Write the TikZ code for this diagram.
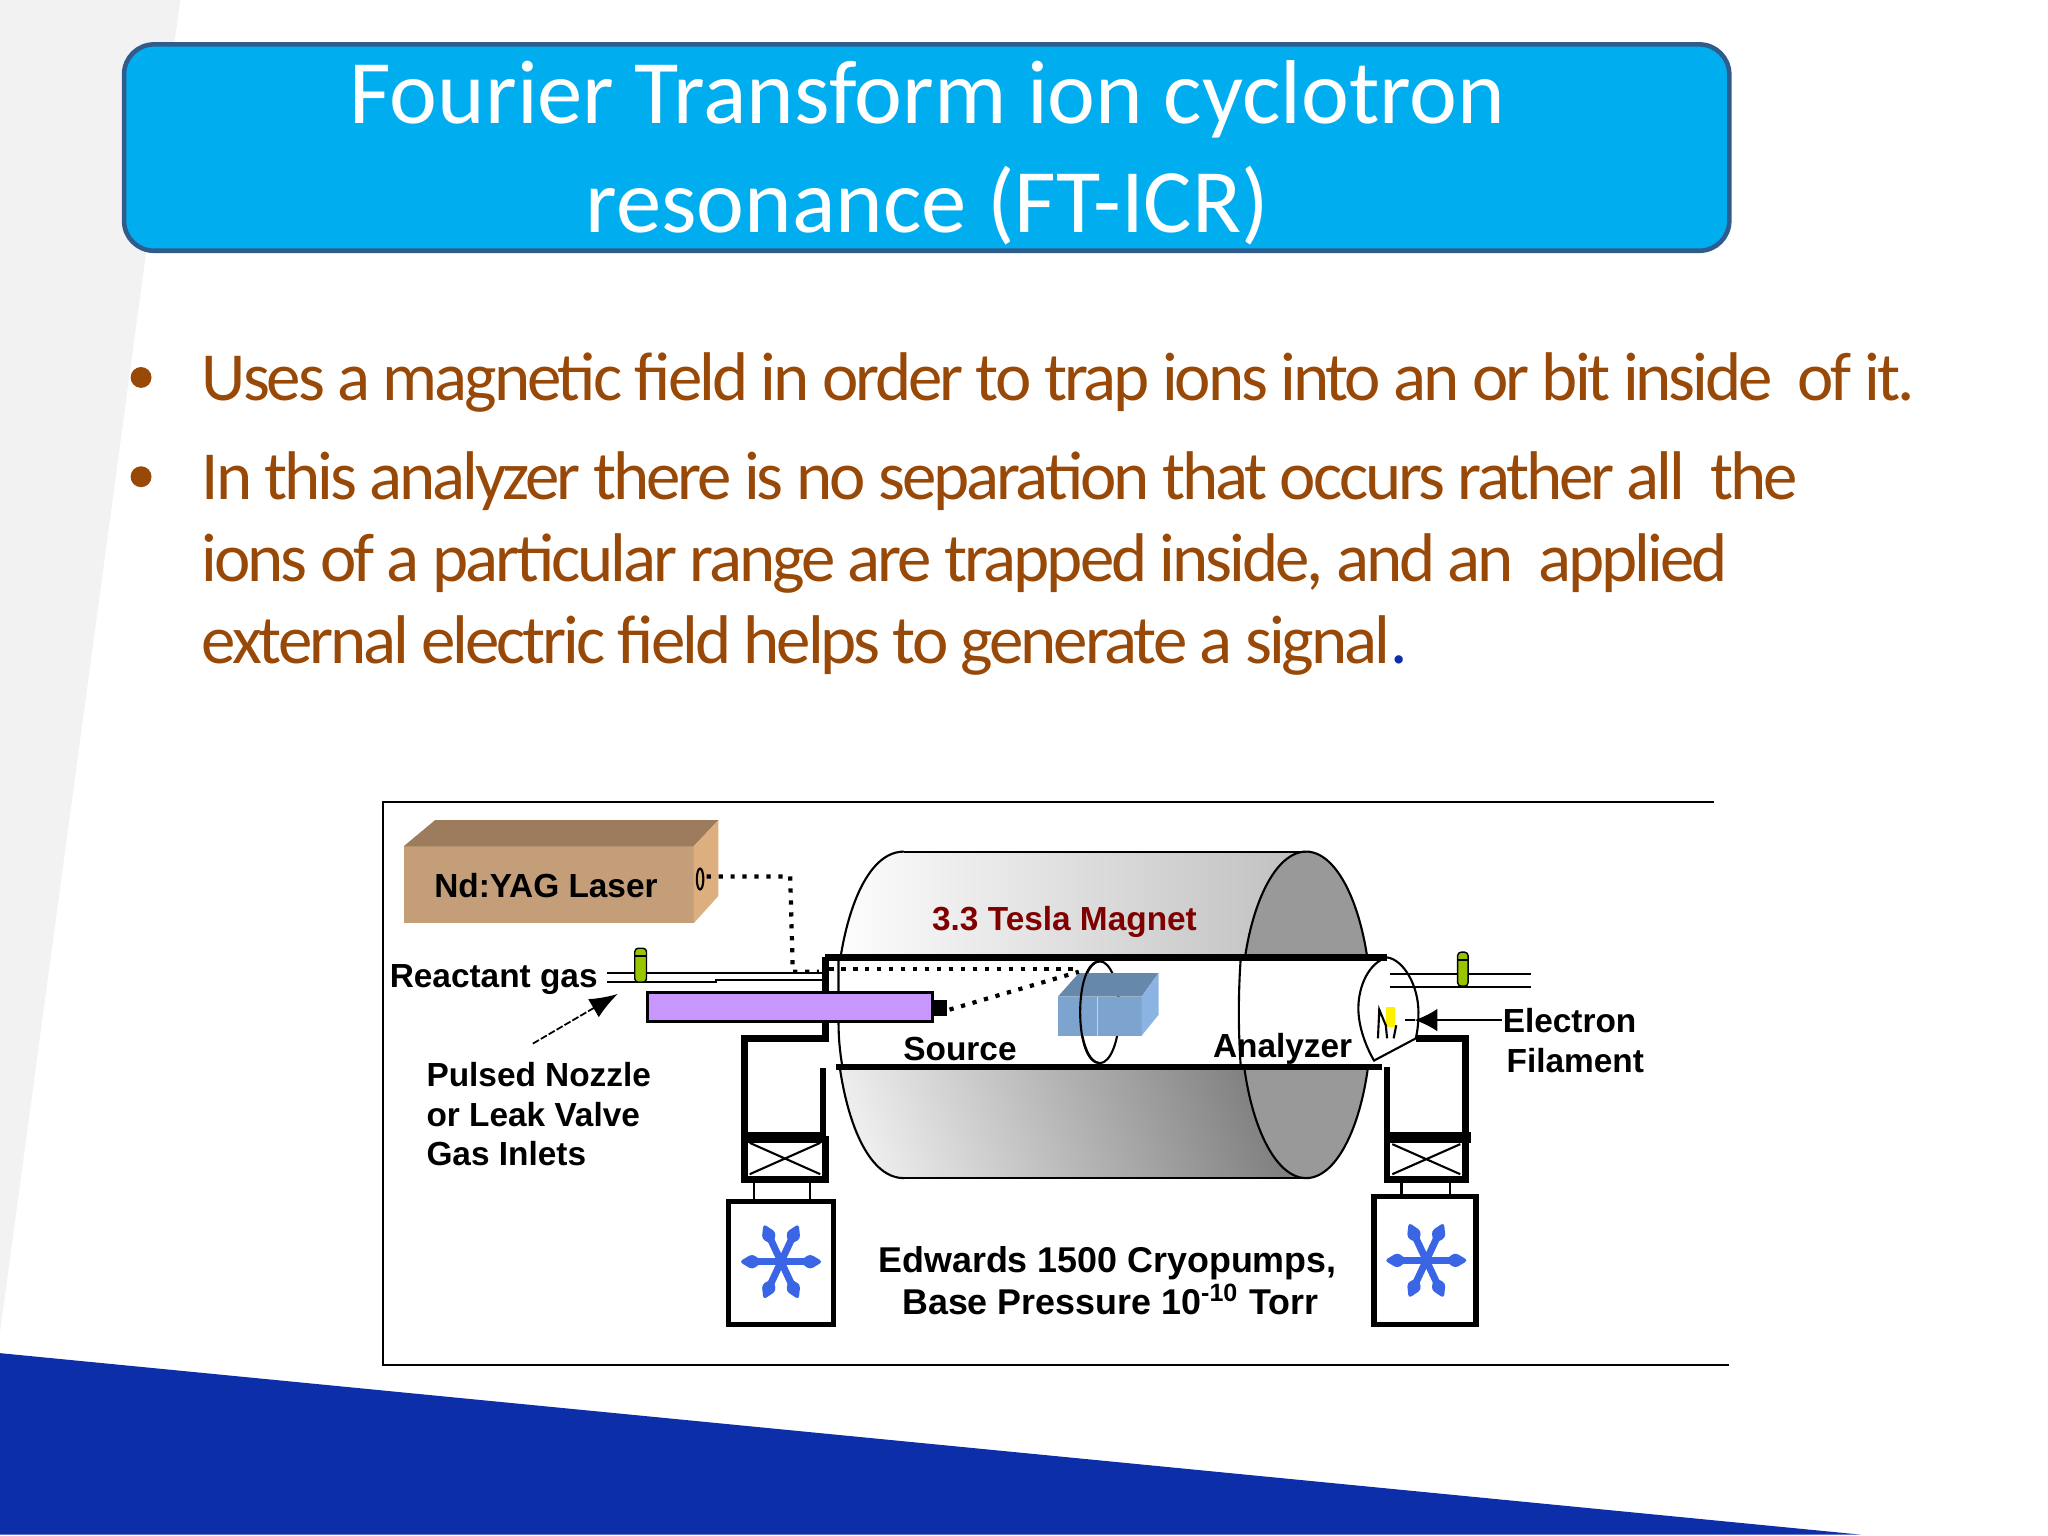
\documentclass[tikz,border=0pt]{standalone}
\usepackage{fontspec}
\usetikzlibrary{arrows.meta}
\setmainfont{Carlito}
\newfontfamily\bodyfont[LetterSpace=-4.5]{Carlito}
\newfontfamily\labelfont{Liberation Sans}
\begin{document}
\begin{tikzpicture}[x=0.013061cm,y=-0.013061cm,
    bullettext/.style={anchor=west,align=left,inner sep=0pt,text=cB,font=\bodyfont\fontsize{19.6}{23.4}\selectfont},
    rig/.style={anchor=center,inner sep=0pt,font=\labelfont\bfseries\fontsize{9.5}{11}\selectfont},
    pumptext/.style={rig,font=\labelfont\bfseries\fontsize{10.2}{11}\selectfont},
    wall/.style={line width=1.9pt},
    thin wall/.style={line width=0.6pt},
    pumpbox/.style={line width=1.5pt,fill=white},
    valve/.style={fill=cG,line width=0.4pt,rounded corners=1pt},
    beam/.style={line width=1.2pt,dash pattern=on 1.2pt off 2.2pt}]
\definecolor{cT}{RGB}{0,174,239}
\definecolor{cE}{RGB}{47,92,140}
\definecolor{cB}{RGB}{152,72,7}
\definecolor{cN}{RGB}{12,46,168}
\definecolor{cF}{RGB}{58,102,230}
\definecolor{cG}{RGB}{153,196,0}
\definecolor{cL}{RGB}{196,158,120}
\definecolor{cLt}{RGB}{156,124,92}
\definecolor{cLs}{RGB}{221,175,127}
\definecolor{cC}{RGB}{124,164,206}
\definecolor{cCt}{RGB}{102,136,170}
\definecolor{cCs}{RGB}{140,180,226}
\definecolor{cP}{RGB}{200,150,255}

\useasboundingbox (0,0) rectangle (1568,1176);
\fill[white] (0,0) rectangle (1568,1176);
\fill[black!5] (0,0) -- (138,0) -- (0,1020) -- cycle;
\fill[cN] (0,1036) -- (1425,1175) -- (0,1175) -- cycle;

% title
\draw[cE,fill=cT,line width=1.3pt,rounded corners=8.5pt] (95,34) rectangle (1324,192);
\node[white,align=center,inner sep=0pt,font=\fontsize{25.8}{31}\selectfont] (title) at (710,117)
    {Fourier Transform ion cyclotron\\resonance (FT-ICR)};

% bullets
\node[bullettext] (first) at (154,293) {Uses a magnetic field in order to trap ions into an or bit inside\ \ of it.};
\node[bullettext,anchor=north west] (second) at (154,345) {In this analyzer there is no separation that occurs rather all\ \ the\\
    ions of a particular range are trapped inside, and an\ \ applied\\
    external electric field helps to generate a signal{\color{cN}.}};
\foreach \y in {289,365}{
    \fill[cB] (108,\y) circle (8);
}

% frame
\draw[line width=0.6pt] (1312,614) -- (293,614) -- (293,1045) -- (1324,1045);

% laser
\fill[cL] (309,648) rectangle (531,707);
\fill[cLt] (309,648) -- (333,628) -- (550,628) -- (531,648) -- cycle;
\fill[cLs] (531,648) -- (550,628) -- (550,686) -- (531,707) -- cycle;
\node[rig] (laser) at (418,678) {Nd:YAG Laser};
\draw[thin wall] (536,673) ellipse (2.5 and 8);

% magnet
\begin{scope}
\clip (692,652) -- (1000,652) -- (1000,902) -- (692,902) .. controls (657,902) and (640,830) .. (640,777) .. controls (640,724) and (657,652) .. (692,652);
\shade[left color=white,right color=black!25,shading angle=90] (630,652) rectangle (1000,733);
\shade[left color=black!7,right color=black!50,shading angle=110] (630,817) rectangle (1000,902);
\end{scope}
\fill[black!40] (1000,777) ellipse (50 and 125);
\draw[thin wall] (692,652) -- (1000,652) (692,902) -- (1000,902);
\draw[thin wall] (692,652) .. controls (657,652) and (640,724) .. (640,777) .. controls (640,830) and (657,902) .. (692,902);
\draw[thin wall] (1000,777) ellipse (50 and 125);
\fill[white] (636,733) rectangle (1060,817);
\draw[thin wall] (950,733) .. controls (948,760) and (948,790) .. (950,817);
\draw[thin wall] (642,733) -- (642,760) (642,782) .. controls (642,795) and (643,805) .. (645,817);
\node[rig,text=red!50!black] (magnet) at (815,706) {3.3 Tesla Magnet};

% cell
\draw[thin wall] (842,775) ellipse (15 and 39);
\fill[cC] (810,763) rectangle (874,793);
\fill[cCt] (810,763) -- (826,745) -- (887,745) -- (874,763) -- cycle;
\fill[cCs] (874,763) -- (887,745) -- (887,777) -- (874,793) -- cycle;
\draw[white!70!cF,line width=0.3pt] (840,763) -- (840,793);
\draw[thin wall] (842,736) .. controls (832,736) and (827,755) .. (827,775) .. controls (827,795) and (832,814) .. (842,814);

% tube
\draw[wall] (632,733) -- (1062,733);
\draw[wall] (640,817) -- (1058,817);

% source side
\draw[wall] (632,733) -- (632,795) -- (570,795) -- (570,903) -- (632,903) -- (632,870);
\draw[wall] (630,818) -- (630,870);
\fill (570,867) rectangle (632,875);
\draw[thin wall] (574,875) -- (628,899) (574,899) -- (628,875);
\draw[thin wall] (577,903) -- (577,920) (620,903) -- (620,920);
\draw[pumpbox] (558,920) rectangle (638,1014);

% analyzer side
\draw[wall] (1062,817) -- (1062,903) -- (1122,903) -- (1122,795) -- (1084,795);
\fill (1062,867) rectangle (1126,875);
\draw[thin wall] (1066,876) -- (1118,899) (1066,899) -- (1118,876);
\draw[thin wall] (1073,903) -- (1073,916) (1110,903) -- (1110,916);
\draw[pumpbox] (1052,916) rectangle (1130,1014);
\draw[thin wall] (1062,733) .. controls (1075,735) and (1086,755) .. (1086,775) .. controls (1086,785) and (1085,790) .. (1084,795) -- (1052,812) .. controls (1045,800) and (1040,785) .. (1040,772) .. controls (1040,755) and (1048,737) .. (1062,733);

% snowflakes
\foreach \xc/\yc in {598/966,1092/965}{
    \foreach \ang in {0,65,115,180,245,295}{
        \begin{scope}[shift={(\xc,\yc)},rotate=\ang]
        \draw[cF,line width=2pt] (0,0) -- (20,0);
        \fill[cF,rounded corners=1pt] (14,0) -- (22,-6) -- (32,0) -- (22,6) -- cycle;
        \end{scope}
    }
}

% gas lines
\draw[thin wall] (465,745) -- (632,745);
\draw[thin wall] (465,752) -- (548,752) -- (548,750) -- (632,750);
\draw[thin wall] (1064,746) -- (1172,746) (1064,756) -- (1172,756);
\draw[valve] (486,726) rectangle (495,752);
\draw[line width=0.4pt] (486,732) -- (495,732);
\draw[valve] (1116,729) rectangle (1124,755);
\draw[line width=0.4pt] (1116,735) -- (1124,735);

% laser beam
\draw[beam] (541,671) -- (605,671) -- (607,744) -- (627,744);
\draw[beam] (635,742) -- (826,742);
\draw[beam] (727,773) -- (826,744);

% purple bar
\draw[fill=cP,line width=0.8pt] (496,760) rectangle (714,782);
\fill (714,766) rectangle (725,778);

% filament
\fill[yellow] (1061,771) rectangle (1068,786);
\draw[thin wall] (1055,795) -- (1056,773) -- (1061,785) -- (1062,795) (1067,795) -- (1069,785);

% labels
\node[rig] (gas) at (378,750) {Reactant gas};
\node[rig,anchor=west] (nozzle) at (326,823) {Pulsed Nozzle};
\node[rig,anchor=west] (leak) at (326,853) {or Leak Valve};
\node[rig,anchor=west] (inlets) at (326,883) {Gas Inlets};
\node[rig] (source) at (735,803) {Source};
\node[rig] (analyzer) at (982,803) {Analyzer};
\node[rig,anchor=west] (electron) at (1150,781) {Electron};
\node[rig,anchor=west] (filament) at (1153,812) {Filament};
\node[pumptext] (edwards) at (848,967) {Edwards 1500 Cryopumps,};
\node[pumptext] (base) at (850,995) {Base Pressure 10\textsuperscript{-10} Torr};

% leaders
\coordinate (tail) at (408,799);
\coordinate (nozzletip) at (473,761);
\coordinate (hole) at (1083,781);
\draw[line width=0.5pt,-{Latex[length=8pt,width=6pt]},dash pattern=on 2pt off 0.6pt] (tail) -- (nozzletip);
\draw[line width=0.6pt,-{Latex[length=6.5pt,width=6.5pt]}] (electron.west) -- (hole);
\draw[line width=0.6pt] (hole) -- ++(-7,0);
\end{tikzpicture}
\end{document}
